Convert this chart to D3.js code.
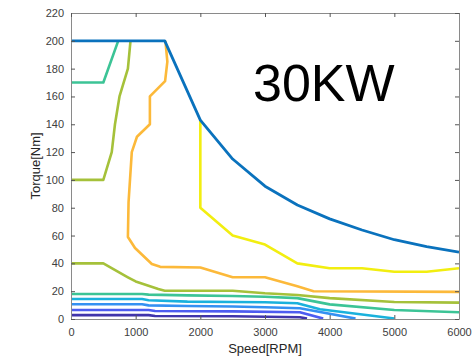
<!DOCTYPE html>
<html>
<head>
<meta charset="utf-8">
<script src="https://cdn.jsdelivr.net/npm/d3@7"></script>
<style>
  html, body { margin: 0; padding: 0; background: #fff; }
  svg { display: block; font-family: "Liberation Sans", Arial, sans-serif; }
</style>
</head>
<body>
<svg id="chart" width="474" height="357"></svg>
<script>
// Axis ticks
const xTicks = [0, 1000, 2000, 3000, 4000, 5000, 6000];
const yTicks = [0, 20, 40, 60, 80, 100, 120, 140, 160, 180, 200, 220];

// Peak torque envelope [speed, torque]
const envelope = [[0, 200], [1450, 200], [2000, 143], [2500, 115], [3000, 95.5], [3500, 82],
  [4000, 72], [4500, 64], [5000, 57], [5500, 52], [6000, 48]];

// Contour levels, drawn from the outermost inward
const yellowLine = [[2000, 143], [2000, 80], [2500, 60], [3000, 53.5], [3500, 40], [4000, 36.5],
  [4500, 36.5], [5000, 34], [5500, 34], [6000, 36.5]];
const orangeLine = [[1460, 200], [1490, 185], [1455, 171], [1220, 160], [1220, 140], [1020, 131],
  [940, 120], [890, 84], [880, 59], [990, 51], [1250, 39.5], [1380, 37.5], [2000, 37], [2500, 30],
  [3000, 30], [3500, 23.5], [3750, 20], [6000, 19.5]];
const greenUpper = [[0, 100], [500, 100], [630, 120], [680, 140], [750, 160], [880, 180], [920, 200]];
const greenLower = [[0, 40], [500, 40], [880, 30], [1000, 27], [1350, 21.5], [1450, 20.3],
  [2500, 20.3], [3000, 18.5], [3500, 17.3], [4000, 15], [5000, 12.2], [6000, 11.8]];
const tealUpper = [[0, 170], [500, 170], [730, 200]];
const tealLower = [[0, 18], [1100, 18], [1200, 17.5], [1800, 17], [2500, 16.5], [3000, 16],
  [3500, 15], [4000, 10.5], [5000, 6.5], [6000, 4.8]];
const cyanLine = [[0, 14.4], [1100, 14.4], [1200, 13.5], [1800, 12.5], [2500, 12.2], [3000, 12],
  [3500, 11.3], [3850, 7], [5000, 0.4]];
const lightBlueLine = [[0, 10.6], [1100, 10.6], [1200, 9.8], [1800, 9.4], [2500, 9], [3000, 8.5],
  [3540, 7.7], [4400, 0.3]];
const blueLine = [[0, 6.5], [1200, 6.5], [1300, 5.8], [2500, 5.5], [3540, 4.8], [3900, 0.3]];
const indigoLine = [[0, 2.8], [1200, 2.8], [1300, 2.2], [2500, 2], [3540, 1.3], [3650, 0.3]];

const contours = [
  { pts: indigoLine, color: "#4034ab" },
  { pts: blueLine, color: "#4d5cf0" },
  { pts: lightBlueLine, color: "#3490f2" },
  { pts: cyanLine, color: "#1ab1dc" },
  { pts: tealLower, color: "#3cc496" },
  { pts: tealUpper, color: "#3cc496" },
  { pts: greenLower, color: "#a5c13a" },
  { pts: greenUpper, color: "#a5c13a" },
  { pts: orangeLine, color: "#fcb93a" },
  { pts: yellowLine, color: "#f2ee10" }
];

const svg = d3.select("#chart");
const padL = 71, padR = 459, padT = 13, padB = 319;

const x = d3.scaleLinear().domain([0, 6000]).range([padL, padR]);
const y = d3.scaleLinear().domain([0, 220]).range([padB, padT]);

const line = d3.line().x(d => x(d[0])).y(d => y(d[1]));

svg.append("defs").append("clipPath").attr("id", "plot")
  .append("rect").attr("x", padL).attr("y", padT - 2)
  .attr("width", padR - padL).attr("height", padB - padT + 2);

const plot = svg.append("g").attr("clip-path", "url(#plot)");

contours.forEach(c => {
  plot.append("path").attr("d", line(c.pts))
    .attr("fill", "none").attr("stroke", c.color)
    .attr("stroke-width", 2.6).attr("stroke-linejoin", "round");
});

plot.append("path").attr("d", line(envelope))
  .attr("fill", "none").attr("stroke", "#0a72bd")
  .attr("stroke-width", 2.8).attr("stroke-linejoin", "round");

// Axes with inward ticks on all four sides
const axisColor = "#8a8a8a";
const textColor = "#404040";

function styleAxis(g) {
  g.select(".domain").attr("stroke", axisColor);
  g.selectAll(".tick line").attr("stroke", "#555");
  g.selectAll(".tick text").attr("fill", textColor)
    .style("font-family", "'Liberation Sans', Arial, sans-serif").style("font-size", "11px");
}

svg.append("g").attr("transform", `translate(0,${padB})`)
  .call(d3.axisBottom(x).tickValues(xTicks).tickFormat(d3.format("d"))
    .tickSizeInner(-4).tickSizeOuter(0).tickPadding(9))
  .call(styleAxis);

svg.append("g").attr("transform", `translate(${padL},0)`)
  .call(d3.axisLeft(y).tickValues(yTicks).tickFormat(d3.format("d"))
    .tickSizeInner(-4).tickSizeOuter(0).tickPadding(7))
  .call(styleAxis);

svg.append("g").attr("transform", `translate(0,${padT})`)
  .call(d3.axisTop(x).tickValues(xTicks).tickFormat("")
    .tickSizeInner(-4).tickSizeOuter(0))
  .call(styleAxis);

svg.append("g").attr("transform", `translate(${padR},0)`)
  .call(d3.axisRight(y).tickValues(yTicks).tickFormat("")
    .tickSizeInner(-4).tickSizeOuter(0))
  .call(styleAxis);

// Axis titles
svg.append("text").attr("x", (padL + padR) / 2).attr("y", 353)
  .attr("text-anchor", "middle").attr("fill", "#262626")
  .style("font-size", "13px").text("Speed[RPM]");

svg.append("text")
  .attr("transform", `translate(40,${(padT + padB) / 2}) rotate(-90)`)
  .attr("text-anchor", "middle").attr("fill", "#262626")
  .style("font-size", "13px").text("Torque[Nm]");

// Power rating label
svg.append("text").attr("x", 253).attr("y", 101)
  .attr("fill", "#000").style("font-size", "52px").text("30KW");
</script>
</body>
</html>
